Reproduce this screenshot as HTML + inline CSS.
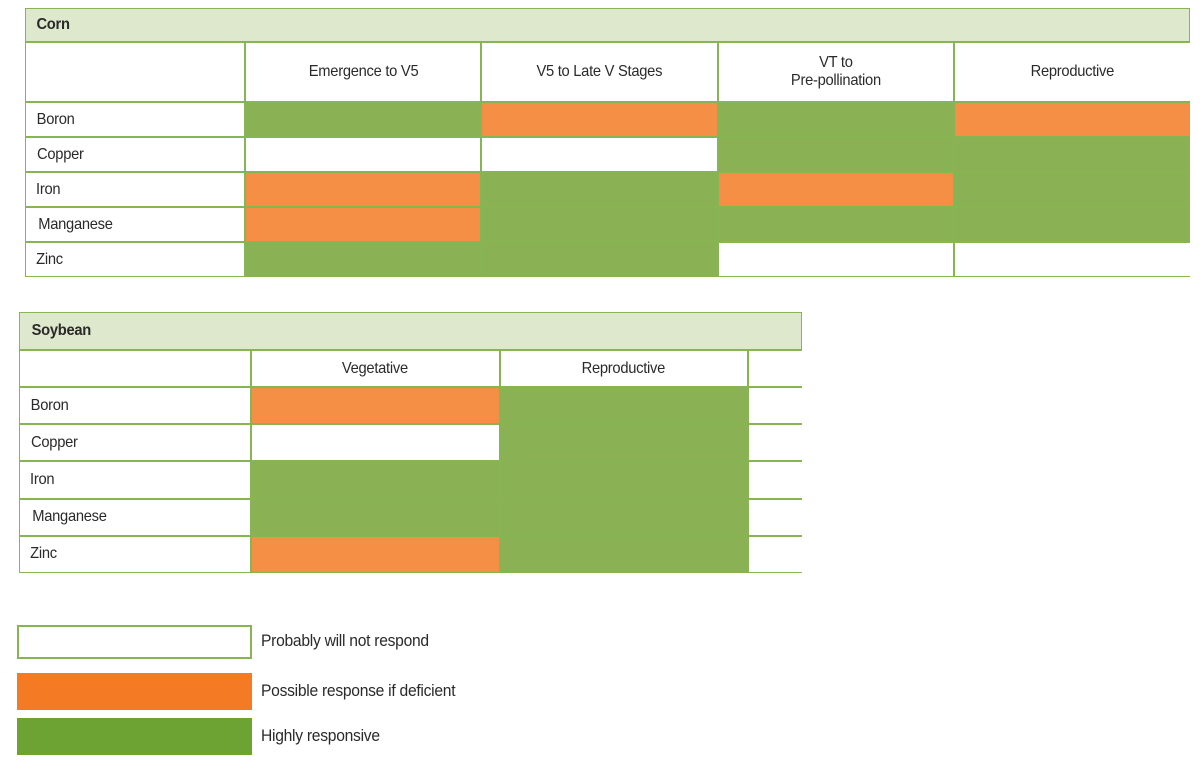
<!DOCTYPE html>
<html><head><meta charset="utf-8"><style>
body{margin:0;width:1200px;height:770px;background:#fff;position:relative;overflow:hidden;font-family:"Liberation Sans",sans-serif;color:#2a2a2a}
.c{position:absolute;box-sizing:border-box;border:1.5px solid #86b552;display:flex;align-items:center;font-size:16px;letter-spacing:-0.3px}
.t{position:absolute;font-size:17px;letter-spacing:-0.3px;transform:scaleX(0.92);transform-origin:left center}
</style></head><body>
<div id="root"></div>
<script>
const colors={N:'#ffffff',P:'#f58f45',H:'#8ab254'};
const cornStages=['Emergence to V5','V5 to Late V Stages','VT to<br>Pre-pollination','Reproductive'];
const cornNutrients=['Boron','Copper','Iron','Manganese','Zinc'];
const cornValues=[['H','P','H','P'],['N','N','H','H'],['P','H','P','H'],['P','H','H','H'],['H','H','N','N']];
const soyStages=['Vegetative','Reproductive',''];
const soyNutrients=['Boron','Copper','Iron','Manganese','Zinc'];
const soyValues=[['P','H','N'],['N','H','N'],['H','H','N'],['H','H','N'],['P','H','N']];
const legendLabels=['Probably will not respond','Possible response if deficient','Highly responsive'];
const legendColors=['#ffffff','#f47a23','#6ca333'];
const root=document.getElementById('root');
function cell(x,y,w,h,bg,html,name,center,bold){
  const d=document.createElement('div');d.className='c';
  d.style.left=x+'px';d.style.top=y+'px';d.style.width=w+'px';d.style.height=h+'px';d.style.background=bg;
  if(html){d.innerHTML='<span style="display:inline-block;transform:scaleX(0.92)">'+html+'</span>';}
  d.style.justifyContent=center?'center':'flex-start';d.style.textAlign=center?'center':'left';
  if(!center)d.style.paddingLeft='9px';
  if(bold)d.style.fontWeight='bold';
  
  
  root.appendChild(d);return d;
}
function table(prefix,title,x0,titleY,titleH,headH,rowH,labelW,colW,right,stages,nutrients,values){
  cell(x0,titleY,right-x0,titleH,'#dde8cc',title,prefix+'-title',false,true);
  const hy=titleY+titleH;
  cell(x0,hy,labelW,headH,'#fff','',prefix+'-header-blank',false,false);
  stages.forEach((s,i)=>{
    const x=x0+labelW+i*colW;const w=Math.min(colW,right-x);
    const d=cell(x,hy,w,headH,'#fff',s,prefix+'-stage-header',true,false);
    if(x+colW>right)d.style.borderRight='none';
  });
  nutrients.forEach((n,r)=>{
    const y=hy+headH+r*rowH;
    cell(x0,y,labelW,rowH,'#fff',n,prefix+'-nutrient-label',false,false);
    values[r].forEach((v,i)=>{
      const x=x0+labelW+i*colW;const w=Math.min(colW,right-x);
      const d=cell(x,y,w,rowH,colors[v],'',prefix+'-cell',true,false);
      if(x+colW>right)d.style.borderRight='none';
    });
  });
}
table('corn','Corn',25,8,34,60,35,220,236.3,1190,cornStages,cornNutrients,cornValues);
table('soybean','Soybean',19,312,38,37,37.2,232,248.5,802,soyStages,soyNutrients,soyValues);
const ly=[625,673,718],lh=[34,37,37];
legendLabels.forEach((l,i)=>{
  const b=document.createElement('div');
  b.style.cssText='position:absolute;left:17px;top:'+ly[i]+'px;width:235px;height:'+lh[i]+'px;box-sizing:border-box;background:'+legendColors[i]+';border:2px solid '+(i==0?'#86b552':legendColors[i]);
  
  
  root.appendChild(b);
  const t=document.createElement('div');t.className='t';
  t.style.left='261px';t.style.top=(ly[i]+lh[i]/2-11)+'px';t.textContent=l;
  
  
  root.appendChild(t);
});
</script>
</body></html>
